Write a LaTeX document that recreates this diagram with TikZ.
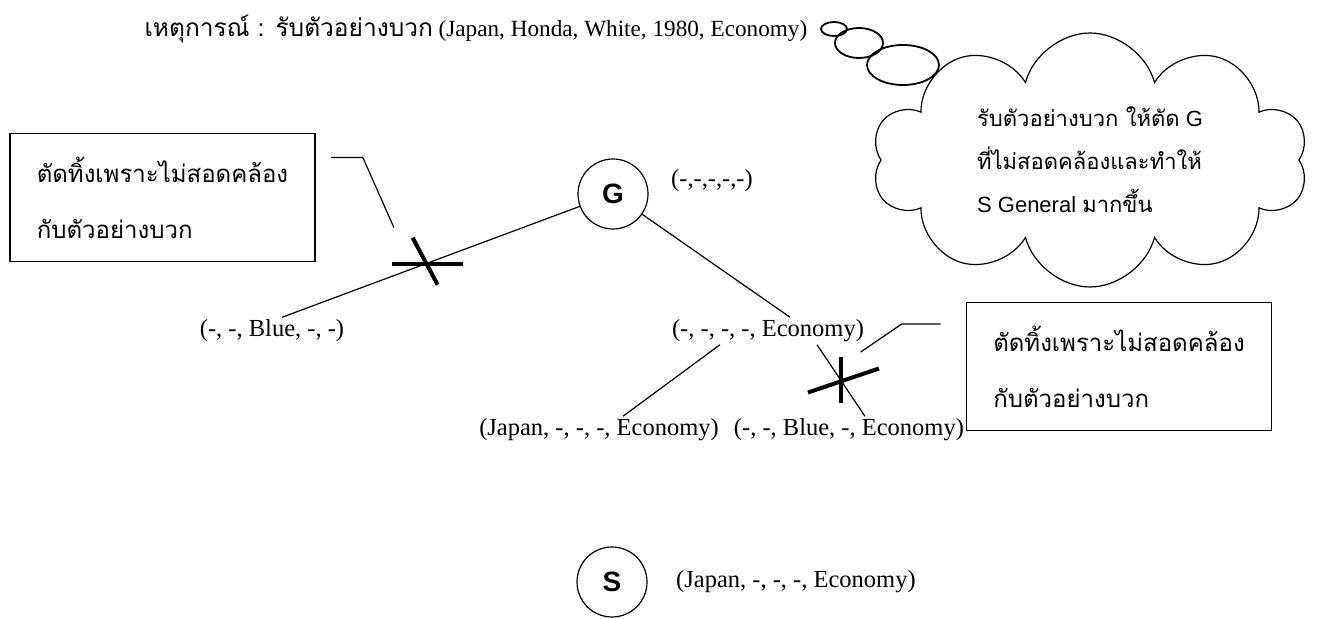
\documentclass[tikz,border=0pt]{standalone}
\usepackage{fontspec}
\setmainfont{Liberation Serif}
\setsansfont{Liberation Sans}
\newfontfamily\thaifont[Script=Thai]{Loma}
\usetikzlibrary{
  positioning,
  shapes.symbols,
  calc
}

\begin{document}
\begin{tikzpicture}[
  x=0.5pt, y=-0.5pt,
  line width=0.6pt,
  hyp/.style={
    circle, draw, line width=0.6pt,
    minimum size=35pt, inner sep=0pt,
    font=\sffamily\bfseries\fontsize{14}{16}\selectfont
  },
  tuple/.style={
    inner sep=1pt,
    font=\fontsize{12.25}{14}\selectfont
  },
  note/.style={
    draw, line width=0.9pt,
    minimum width=152.5pt, minimum height=64pt,
    align=left, font=\thaifont\fontsize{12}{28}\selectfont
  },
  thought/.style={
    cloud, cloud puffs=10, aspect=1.85,
    draw, line width=0.6pt,
    minimum width=218pt, minimum height=117.5pt,
    align=left, font=\sffamily\fontsize{11}{21.5}\selectfont
  },
  bubble/.style={draw, line width=0.9pt},
  cut/.style={line width=2pt},
  leader/.style={line width=0.6pt}
]
\useasboundingbox (0,0) rectangle (1319,619);

% ---- Event ----
\node[tuple, anchor=west, font=\fontsize{11.6}{14}\selectfont] (event) at (142,29)
  {{\thaifont\fontsize{12.25}{14}\selectfont เหตุการณ์ : รับตัวอย่างบวก} (Japan, Honda, White, 1980, Economy)};

% Thought cloud
\node[thought] (cloud) at (1090,160)
  {{\thaifont รับตัวอย่างบวก ให้ตัด} G\\
   {\thaifont ที่ไม่สอดคล้องและทำให้}\\
   S General {\thaifont มากขึ้น}};
\draw[bubble] (834,29) ellipse [x radius=13, y radius=7];
\draw[bubble] (859,43) ellipse [x radius=24, y radius=15];
\draw[bubble] (903,65) ellipse [x radius=36, y radius=20];

% ---- G boundary ----
\node[hyp] (G) at (613,194) {G};
\node[tuple] (gtop) at (712,181) {(-,-,-,-,-)};

\node[tuple] (lblue) at (272,331) {(-, -, Blue, -, -)};
\node[tuple] (leco) at (768,331) {(-, -, -, -, Economy)};
\node[tuple] (ljap) at (599,430) {(Japan, -, -, -, Economy)};
\node[tuple, right=5pt of ljap] (lbe) {(-, -, Blue, -, Economy)};

\draw (G) -- ($(lblue.north)+(10,0)$);
\draw (G) -- ($(leco.north)+(22,0)$);
\draw ($(leco.south)+(-48,0)$) -- ($(ljap.north)+(24,0)$);
\draw ($(leco.south)+(49,0)$) -- ($(lbe.north)+(16,0)$);

% Crosses on dropped edges
\coordinate (xl) at ($(G)!0.566!($(lblue.north)+(10,0)$)$);
\draw[cut] ($(xl)+(-34,0)$) -- ($(xl)+(37,0)$);
\draw[cut] ($(xl)+(-13,-26)$) -- ($(xl)+(12,21)$);

\coordinate (xr) at ($($(leco.south)+(49,0)$)!0.5!($(lbe.north)+(16,0)$)$);
\draw[cut] ($(xr)+(0,-23)$) -- ($(xr)+(0,23)$);
\draw[cut] ($(xr)+(-33,12)$) -- ($(xr)+(38,-12)$);

% Notes
\node[note] (dropl) at (162.5,197.5) {ตัดทิ้งเพราะไม่สอดคล้อง\\กับตัวอย่างบวก};
\node[note] (dropr) at (1119,366.5) {ตัดทิ้งเพราะไม่สอดคล้อง\\กับตัวอย่างบวก};

\draw[leader] ($(dropl.north east)+(15,25)$) -- ++(32,0) -- ++(31,70);
\draw[leader] ($(dropr.north west)+(-25,22.5)$) -- ++(-39,0) -- ++(-41,28);

% ---- S boundary ----
\node[hyp] (S) at (612,582) {S};
\node[tuple, right=13pt of S] (stup) {(Japan, -, -, -, Economy)};

\end{tikzpicture}
\end{document}
